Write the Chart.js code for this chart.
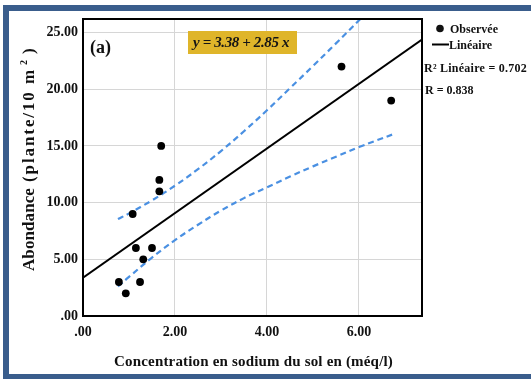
<!DOCTYPE html>
<html>
<head>
<meta charset="utf-8">
<script src="https://cdn.jsdelivr.net/npm/chart.js@4.4.1/dist/chart.umd.min.js"></script>
<style>
  html, body { margin: 0; padding: 0; background: #fff; }
  #wrap { width: 531px; height: 379px; }
</style>
</head>
<body>
<div id="wrap"><canvas id="chart" width="531" height="379"></canvas></div>
<script>
// valeurs
const sodium = [0.78, 0.93, 1.08, 1.15, 1.24, 1.31, 1.50, 1.66, 1.66, 1.70, 5.62, 6.70];
const abondance = [3, 2, 9, 6, 3, 5, 6, 12, 11, 15, 22, 19];

// droite y = 3.38 + 2.85 x, aux bords du graphique
const droiteX = [0, 7.37];
const droiteY = [3.38, 24.38];

// bandes de confiance (pointillés bleus)
const bandeHautX = [0.76, 1.0, 1.5, 2.0, 2.5, 3.0, 3.5, 4.0, 4.5, 5.0, 5.5, 6.03];
const bandeHautY = [8.55, 9.05, 10.2, 11.5, 12.95, 14.55, 16.3, 18.15, 20.1, 22.05, 24.05, 26.2];
const bandeBasX = [0.76, 1.0, 1.5, 2.0, 2.5, 3.0, 3.5, 4.0, 4.5, 5.0, 5.5, 6.0, 6.72];
const bandeBasY = [2.6, 3.45, 5.15, 6.7, 8.05, 9.3, 10.4, 11.35, 12.3, 13.2, 14.05, 14.9, 16.0];

const xTicks = [0, 2, 4, 6];
const xTickLabels = ['.00', '2.00', '4.00', '6.00'];
const yTicks = [0, 5, 10, 15, 20, 25];
const yTickLabels = ['.00', '5.00', '10.00', '15.00', '20.00', '25.00'];

const serif = '"Liberation Serif", "Times New Roman", serif';
const bleu = '#4a90e2';

const points = (xs, ys) => xs.map((x, i) => ({ x: x, y: ys[i] }));

// texte étiré ou resserré pour tenir dans une largeur donnée
function texteAjuste(ctx, txt, x, y, largeur) {
  ctx.letterSpacing = '0px';
  const w = ctx.measureText(txt).width;
  const n = [...txt].length;
  ctx.letterSpacing = ((largeur - w) / n) + 'px';
  ctx.textAlign = 'left';
  ctx.fillText(txt, x, y);
  ctx.letterSpacing = '0px';
}

const decor = {
  id: 'decor',
  beforeDraw(chart) {
    const ctx = chart.ctx;
    ctx.save();
    ctx.fillStyle = '#fff';
    ctx.fillRect(0, 0, chart.width, chart.height);
    ctx.restore();
  },
  afterDraw(chart) {
    const ctx = chart.ctx;
    const a = chart.chartArea;
    ctx.save();

    // cadre du graphique
    ctx.strokeStyle = '#000';
    ctx.lineWidth = 2;
    ctx.strokeRect(a.left, a.top, a.right - a.left, a.bottom - a.top);

    // équation
    ctx.fillStyle = '#dfb52a';
    ctx.fillRect(188, 31, 109, 23);
    ctx.fillStyle = '#151515';
    ctx.font = 'italic bold 15px ' + serif;
    ctx.textBaseline = 'middle';
    texteAjuste(ctx, 'y = 3.38 + 2.85 x', 193, 43, 96);

    // (a)
    ctx.fillStyle = '#111';
    ctx.font = 'bold 18px ' + serif;
    ctx.textAlign = 'left';
    ctx.fillText('(a)', 90, 48);

    // légende à droite
    ctx.beginPath();
    ctx.arc(440, 28.5, 3.8, 0, Math.PI * 2);
    ctx.fill();
    ctx.font = 'bold 12px ' + serif;
    ctx.fillText('Observée', 450, 29.5);
    ctx.lineWidth = 2;
    ctx.beginPath();
    ctx.moveTo(432, 44.5);
    ctx.lineTo(449, 44.5);
    ctx.stroke();
    ctx.fillText('Linéaire', 449, 45.5);
    texteAjuste(ctx, 'R² Linéaire = 0.702', 424, 68.5, 103);
    ctx.fillText('R = 0.838', 425, 90.5);

    // titre de l'axe y
    ctx.save();
    ctx.translate(30, 160);
    ctx.rotate(-Math.PI / 2);
    ctx.font = 'bold 17px ' + serif;
    ctx.textBaseline = 'middle';
    texteAjuste(ctx, 'Abondance', -111, 0, 83);
    texteAjuste(ctx, '(plante/10 m', -22, 0, 114);
    ctx.font = 'bold 10px ' + serif;
    ctx.fillText('2', 95, -6);
    ctx.font = 'bold 17px ' + serif;
    ctx.fillText(')', 106, 0);
    ctx.restore();

    // titre de l'axe x
    ctx.font = 'bold 15px ' + serif;
    ctx.textBaseline = 'middle';
    texteAjuste(ctx, 'Concentration en sodium du sol en (méq/l)', 114, 362, 279);

    // bordure bleue
    ctx.fillStyle = '#3a5d8c';
    ctx.fillRect(3, 5, chart.width - 3, 6);
    ctx.fillRect(3, 5, 6, chart.height - 5);
    ctx.fillRect(3, 374, chart.width - 3, 5);

    ctx.restore();
  }
};

new Chart(document.getElementById('chart'), {
  data: {
    datasets: [
      {
        type: 'scatter',
        label: 'Observée',
        data: points(sodium, abondance),
        backgroundColor: '#000',
        borderWidth: 0,
        pointRadius: 3.9,
        order: 0
      },
      {
        type: 'line',
        label: 'Linéaire',
        data: points(droiteX, droiteY),
        borderColor: '#000',
        borderWidth: 2,
        pointRadius: 0,
        order: 1
      },
      {
        type: 'line',
        data: points(bandeHautX, bandeHautY),
        borderColor: bleu,
        borderWidth: 2.2,
        borderDash: [6, 4],
        pointRadius: 0,
        tension: 0.4,
        order: 2
      },
      {
        type: 'line',
        data: points(bandeBasX, bandeBasY),
        borderColor: bleu,
        borderWidth: 2.2,
        borderDash: [6, 4],
        pointRadius: 0,
        tension: 0.4,
        order: 2
      }
    ]
  },
  options: {
    responsive: false,
    devicePixelRatio: 1,
    animation: false,
    layout: { padding: { left: 0, top: 19, right: 109, bottom: 0 } },
    plugins: {
      legend: { display: false },
      tooltip: { enabled: false }
    },
    scales: {
      x: {
        type: 'linear',
        min: 0,
        max: 7.37,
        afterBuildTicks: s => { s.ticks = xTicks.map(v => ({ value: v })); },
        afterFit: s => { s.height = 63; },
        grid: { color: '#d6d6d6', lineWidth: 1, drawTicks: false },
        border: { color: '#000', width: 2 },
        ticks: {
          padding: 8,
          maxRotation: 0,
          autoSkip: false,
          color: '#111',
          font: { family: serif, size: 14, weight: 'bold' },
          callback: v => xTickLabels[xTicks.indexOf(v)]
        }
      },
      y: {
        type: 'linear',
        min: 0,
        max: 26.2,
        afterBuildTicks: s => { s.ticks = yTicks.map(v => ({ value: v })); },
        afterFit: s => { s.width = 83; },
        grid: { color: '#d6d6d6', lineWidth: 1, drawTicks: false },
        border: { color: '#000', width: 2 },
        ticks: {
          padding: 5,
          autoSkip: false,
          color: '#111',
          font: { family: serif, size: 14, weight: 'bold' },
          callback: v => yTickLabels[yTicks.indexOf(v)]
        }
      }
    }
  },
  plugins: [decor]
});
</script>
</body>
</html>
